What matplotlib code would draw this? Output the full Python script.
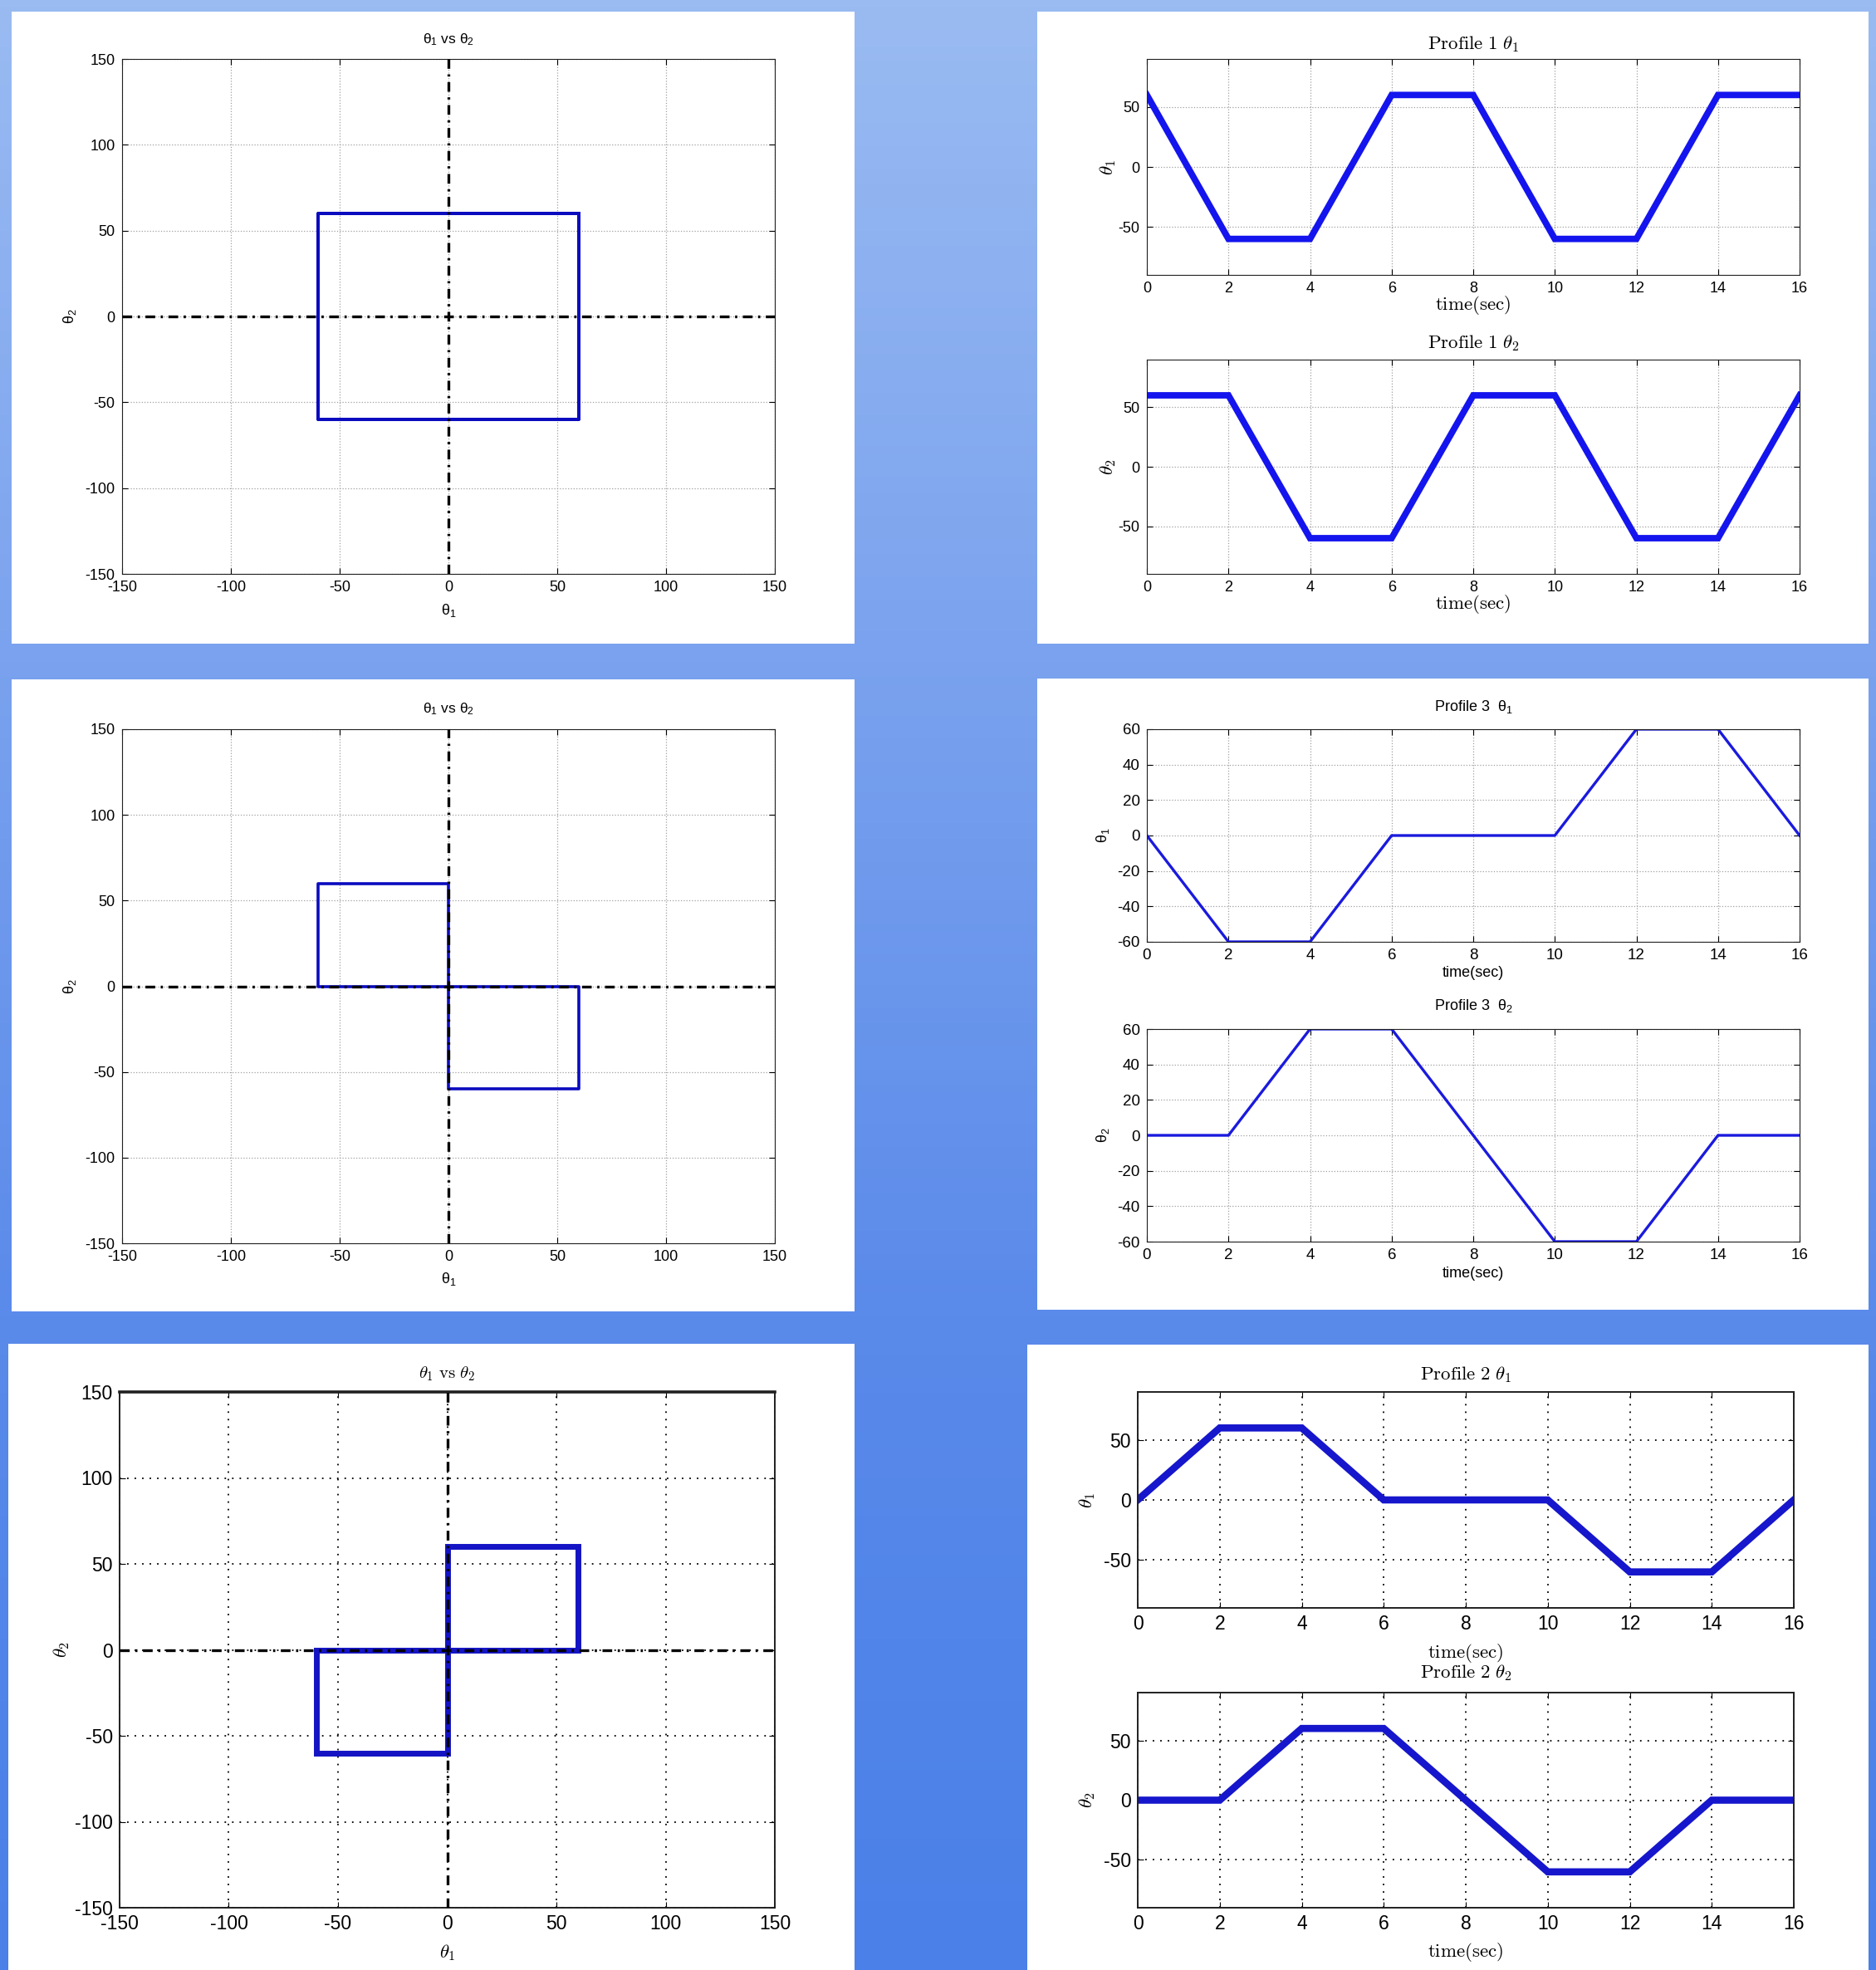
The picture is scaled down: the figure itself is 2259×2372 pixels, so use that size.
import numpy as np
import matplotlib
matplotlib.use('Agg')
import matplotlib.pyplot as plt
from matplotlib.colors import LinearSegmentedColormap
from matplotlib.patches import Rectangle

plt.rcParams['font.family'] = ['Liberation Sans', 'DejaVu Sans']
plt.rcParams['mathtext.fontset'] = 'custom'
plt.rcParams['mathtext.rm'] = 'Liberation Sans'
plt.rcParams['mathtext.it'] = 'Liberation Sans'
plt.rcParams['mathtext.bf'] = 'Liberation Sans:bold'
plt.rcParams['axes.unicode_minus'] = False

# 数据：三组关节角轨迹（时间节点上的角度）
t = [0, 2, 4, 6, 8, 10, 12, 14, 16]
p1_th1 = [60, -60, -60, 60, 60, -60, -60, 60, 60]
p1_th2 = [60, 60, -60, -60, 60, 60, -60, -60, 60]
p2_th1 = [0, 60, 60, 0, 0, 0, -60, -60, 0]
p2_th2 = [0, 0, 60, 60, 0, -60, -60, 0, 0]
p3_th1 = [0, -60, -60, 0, 0, 0, 60, 60, 0]
p3_th2 = [0, 0, 60, 60, 0, -60, -60, 0, 0]

theta_ticks = [-150, -100, -50, 0, 50, 100, 150]
time_ticks = [0, 2, 4, 6, 8, 10, 12, 14, 16]
ticks_50 = [-50, 0, 50]
ticks_20 = [-60, -40, -20, 0, 20, 40, 60]

W, H = 2259, 2372
fig = plt.figure(figsize=(W / 100, H / 100), dpi=100)

# 背景渐变和白色面板
bg = fig.add_axes([0, 0, 1, 1], zorder=-5)
cmap = LinearSegmentedColormap.from_list('bg', ['#9abbf2', '#7aa2ee', '#5a8aea', '#4a80e8'])
bg.imshow(np.linspace(0, 1, 256).reshape(-1, 1), cmap=cmap, aspect='auto',
          extent=(0, W, H, 0))
bg.set_xlim(0, W)
bg.set_ylim(H, 0)
bg.axis('off')
panels = [(14, 14, 1029, 775), (1249, 14, 2250, 775),
          (14, 818, 1029, 1579), (1249, 817, 2250, 1577),
          (10, 1618, 1029, 2372), (1237, 1619, 2250, 2372)]
for x0, y0, x1, y1 in panels:
    bg.add_patch(Rectangle((x0, y0), x1 - x0, y1 - y0, facecolor='white', edgecolor='none'))


def add_ax(box):
    x0, y0, x1, y1 = box
    return fig.add_axes([x0 / W, 1 - y1 / H, (x1 - x0) / W, (y1 - y0) / H])


def labels(ax, box, title, ty, xlab, xy, ylab, yx, tkw, lkw):
    x0, y0, x1, y1 = box
    w, h = x1 - x0, y1 - y0
    ax.set_title(title, y=1 + (y0 - ty) / h, pad=0, va='center', **tkw)
    ax.set_xlabel(xlab, va='center', **lkw)
    ax.xaxis.set_label_coords(0.5, -(xy - y1) / h)
    ax.set_ylabel(ylab, va='center', **lkw)
    ax.yaxis.set_label_coords(-(x0 - yx) / w, 0.5)


def style(ax, fs, grid_color, grid_ls, grid_lw, spine_lw, family=None):
    ax.tick_params(direction='in', top=True, right=True, length=5, width=0.8,
                   labelsize=fs, pad=6)
    if family:
        for lab in ax.get_xticklabels() + ax.get_yticklabels():
            lab.set_family(family)
    ax.grid(True, color=grid_color, linestyle=grid_ls, linewidth=grid_lw)
    ax.set_axisbelow(True)
    for s in ax.spines.values():
        s.set_linewidth(spine_lw)
        s.set_color('#202020')


def cross(ax, lw):
    ax.axhline(0, color='k', lw=lw, linestyle=(0, (3.5, 2, 0.8, 2)), zorder=3)
    ax.axvline(0, color='k', lw=lw, linestyle=(0, (3.5, 2, 0.8, 2)), zorder=3)


mat_t = dict(fontsize=12.5)
mat_l = dict(fontsize=13)
cm_t = dict(fontsize=16.5, math_fontfamily='cm')
cm_l = dict(fontsize=16.5, math_fontfamily='cm')

# ---- 左上：Profile 1 的 θ1 vs θ2 ----
b = (147, 71, 933, 691)
ax = add_ax(b)
ax.plot(p1_th1, p1_th2, color='#0b0bbf', lw=2.6, zorder=2)
cross(ax, 2.4)
ax.set_xlim(-150, 150)
ax.set_ylim(-150, 150)
ax.set_xticks(theta_ticks)
ax.set_yticks(theta_ticks)
style(ax, 13, '#a0a0a0', ':', 0.9, 0.8)
labels(ax, b, 'θ$_1$ vs θ$_2$', 48, 'θ$_1$', 735, 'θ$_2$', 84, mat_t, mat_l)

# ---- 右上：Profile 1 时间曲线 ----
for b, y, name, ttl_y, xl_y in [((1381, 71, 2167, 331), p1_th1, r'$\theta_1$', 53, 367),
                                ((1381, 433, 2167, 691), p1_th2, r'$\theta_2$', 413, 727)]:
    ax = add_ax(b)
    ax.plot(t, y, color='#1414ee', lw=5.6, solid_joinstyle='miter')
    ax.set_xlim(0, 16)
    ax.set_ylim(-90, 90)
    ax.set_xticks(time_ticks)
    ax.set_yticks(ticks_50)
    style(ax, 13, '#a0a0a0', ':', 0.9, 0.8)
    labels(ax, b, r'$\mathrm{Profile\ 1}\ ' + name[1:], ttl_y, r'$\mathrm{time(sec)}$', xl_y,
           name, 1334, cm_t, cm_l)

# ---- 左中：Profile 3 的 θ1 vs θ2 ----
b = (147, 878, 933, 1497)
ax = add_ax(b)
ax.plot(p3_th1, p3_th2, color='#0b0bbf', lw=2.6, zorder=2)
cross(ax, 2.4)
ax.set_xlim(-150, 150)
ax.set_ylim(-150, 150)
ax.set_xticks(theta_ticks)
ax.set_yticks(theta_ticks)
style(ax, 13, '#a0a0a0', ':', 0.9, 0.8)
labels(ax, b, 'θ$_1$ vs θ$_2$', 854, 'θ$_1$', 1540, 'θ$_2$', 84, mat_t, mat_l)

# ---- 右中：Profile 3 时间曲线 ----
for b, y, sub, ttl_y, xl_y in [((1381, 878, 2167, 1134), p3_th1, '1', 851, 1172),
                               ((1381, 1239, 2167, 1495), p3_th2, '2', 1211, 1533)]:
    ax = add_ax(b)
    ax.plot(t, y, color='#1a1ade', lw=2.4)
    ax.set_xlim(0, 16)
    ax.set_ylim(-60, 60)
    ax.set_xticks(time_ticks)
    ax.set_yticks(ticks_20)
    style(ax, 13.5, '#a0a0a0', ':', 0.9, 0.8)
    labels(ax, b, 'Profile 3  θ$_' + sub + '$', ttl_y, 'time(sec)', xl_y,
           'θ$_' + sub + '$', 1328, dict(fontsize=13), dict(fontsize=13))

# ---- 左下：Profile 2 的 θ1 vs θ2 ----
narrow = ['Liberation Sans Narrow', 'Liberation Sans']
b = (144, 1676, 933, 2297)
ax = add_ax(b)
ax.plot(p2_th1, p2_th2, color='#1414c4', lw=5.0, zorder=2, solid_joinstyle='miter')
cross(ax, 2.4)
ax.set_xlim(-150, 150)
ax.set_ylim(-150, 150)
ax.set_xticks(theta_ticks)
ax.set_yticks(theta_ticks)
style(ax, 16.5, 'black', (0, (1, 4)), 1.3, 1.4, narrow)
ax.spines['top'].set_linewidth(2.6)
labels(ax, b, r'$\theta_1\ \mathrm{vs}\ \theta_2$', 1654, r'$\theta_1$', 2351,
       r'$\theta_2$', 74, dict(fontsize=15, math_fontfamily='cm'), cm_l)

# ---- 右下：Profile 2 时间曲线 ----
for b, y, sub, ttl_y, xl_y in [((1370, 1676, 2160, 1936), p2_th1, '1', 1655, 1991),
                               ((1370, 2038, 2160, 2297), p2_th2, '2', 2014, 2351)]:
    ax = add_ax(b)
    ax.plot(t, y, color='#1616cc', lw=6.2, solid_joinstyle='miter')
    ax.set_xlim(0, 16)
    ax.set_ylim(-90, 90)
    ax.set_xticks(time_ticks)
    ax.set_yticks(ticks_50)
    style(ax, 16.5, 'black', (0, (1, 4)), 1.3, 1.4, narrow)
    labels(ax, b, r'$\mathrm{Profile\ 2}\ \theta_' + sub + '$', ttl_y,
           r'$\mathrm{time(sec)}$', xl_y, r'$\theta_' + sub + '$', 1309, cm_t, cm_l)

fig.savefig('out.png', dpi=100)
